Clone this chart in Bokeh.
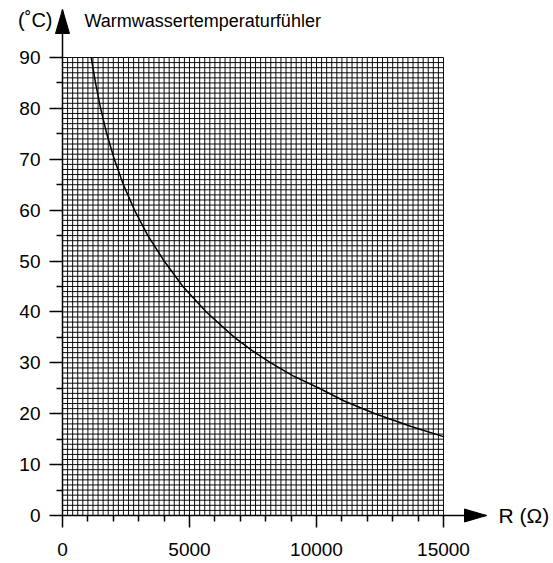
import numpy as np
from bokeh.plotting import figure
from bokeh.models import Range1d, FixedTicker, LinearAxis, Label
from bokeh.embed import file_html
from bokeh.resources import INLINE

# ---- data ----
R_ohm = [1130, 1300, 1500, 1742, 2040, 2399, 2835, 3360, 4003, 4740,
         5661, 6770, 7440, 8200, 9060, 10106, 11090, 12307, 13730, 15000]
T_c = [90, 85, 80, 75, 70, 65, 60, 55, 50, 45,
       40, 35, 32.5, 30, 27.5, 25, 22.5, 20, 17.5, 15.5]

x_major = [0, 5000, 10000, 15000]
x_minor = [1000, 2000, 3000, 4000, 6000, 7000, 8000, 9000,
           11000, 12000, 13000, 14000]
y_major = [0, 10, 20, 30, 40, 50, 60, 70, 80, 90]
y_minor = [5, 15, 25, 35, 45, 55, 65, 75, 85]
x_lim = (0, 15000)
y_lim = (0, 90)
x_grid_step = 200
y_grid_step = 1

title_text = "Warmwassertemperaturfühler"
y_unit = "(˚C)"
x_unit = "R (Ω)"

FONT = "Liberation Sans"

# ---- layout (pixels) ----
W, H = 553, 563
X0_PX, X1_PX = 62, 443      # pixel columns of x=0 and x=15000
Y0_PX, Y1_PX = 515, 57      # pixel rows of y=0 and y=90
PX_X = (X1_PX - X0_PX) / (x_lim[1] - x_lim[0])
PX_Y = (Y0_PX - Y1_PX) / (y_lim[1] - y_lim[0])

p = figure(width=W, height=H, output_backend="svg", toolbar_location=None,
           x_axis_type=None, y_axis_type=None,
           x_range=Range1d(-X0_PX / PX_X, (W - X0_PX) / PX_X),
           y_range=Range1d(-(H - Y0_PX) / PX_Y, Y0_PX / PX_Y),
           min_border=0, min_border_left=0, min_border_right=0,
           min_border_top=0, min_border_bottom=0)
p.title.visible = False
p.outline_line_color = None
p.background_fill_color = "white"
p.border_fill_color = "white"
p.xgrid.visible = False
p.ygrid.visible = False

# ---- millimetre-style grid ----
gx = np.arange(x_lim[0], x_lim[1] + 1, x_grid_step)
gy = np.arange(y_lim[0], y_lim[1] + 0.5, y_grid_step)
p.segment(x0=gx, y0=np.full(gx.size, y_lim[0]), x1=gx, y1=np.full(gx.size, y_lim[1]),
          line_color="black", line_width=1, line_alpha=0.95)
p.segment(x0=np.full(gy.size, x_lim[0]), y0=gy, x1=np.full(gy.size, x_lim[1]), y1=gy,
          line_color="black", line_width=1, line_alpha=0.95)

# ---- curve ----
p.line(R_ohm, T_c, line_color="black", line_width=1.5, line_join="round")

# ---- axes with arrows ----
Y_TIP = (Y0_PX - 9) / PX_Y
X_TIP = (486 - X0_PX) / PX_X

yax = LinearAxis(fixed_location=0, bounds=(0, Y_TIP),
                 ticker=FixedTicker(ticks=y_major, minor_ticks=y_minor))
xax = LinearAxis(fixed_location=0, bounds=(0, X_TIP),
                 ticker=FixedTicker(ticks=x_major, minor_ticks=x_minor))
for ax in (xax, yax):
    ax.axis_line_color = "black"
    ax.axis_line_width = 1.5
    ax.major_tick_line_color = "black"
    ax.major_tick_line_width = 1.5
    ax.minor_tick_line_color = "black"
    ax.minor_tick_line_width = 1.5
    ax.major_tick_in = 0
    ax.minor_tick_in = 0
    ax.minor_tick_out = 6
    ax.major_label_text_font = FONT
    ax.major_label_text_font_size = "19px"
    ax.major_label_text_color = "black"
yax.major_tick_out = 13
yax.major_label_standoff = 9
xax.major_tick_out = 12
xax.major_label_standoff = 15
p.add_layout(yax, "left")
p.add_layout(xax, "below")

# arrow heads (pixel sizes converted to data units)
HEAD_LEN_Y, HEAD_HALF_Y = 24 / PX_Y, 7 / PX_X
HEAD_LEN_X, HEAD_HALF_X = 22 / PX_X, 6.5 / PX_Y
p.patches(xs=[[0, -HEAD_HALF_Y, HEAD_HALF_Y],
              [X_TIP, X_TIP - HEAD_LEN_X, X_TIP - HEAD_LEN_X]],
          ys=[[Y_TIP, Y_TIP - HEAD_LEN_Y, Y_TIP - HEAD_LEN_Y],
              [0, HEAD_HALF_X, -HEAD_HALF_X]],
          fill_color="black", line_color="black", line_width=1)

# ---- texts ----
p.add_layout(Label(x=(52 - X0_PX) / PX_X, y=(Y0_PX - 19) / PX_Y, text=y_unit,
                   text_align="right", text_baseline="middle", text_font=FONT,
                   text_font_size="20px", text_color="black"))
p.add_layout(Label(x=(84 - X0_PX) / PX_X, y=(Y0_PX - 20) / PX_Y, text=title_text,
                   text_align="left", text_baseline="middle", text_font=FONT,
                   text_font_size="18px", text_color="black"))
p.add_layout(Label(x=(498 - X0_PX) / PX_X, y=0, text=x_unit,
                   text_align="left", text_baseline="middle", text_font=FONT,
                   text_font_size="21px", text_color="black"))

open("out.html", "w").write(file_html(p, INLINE))
